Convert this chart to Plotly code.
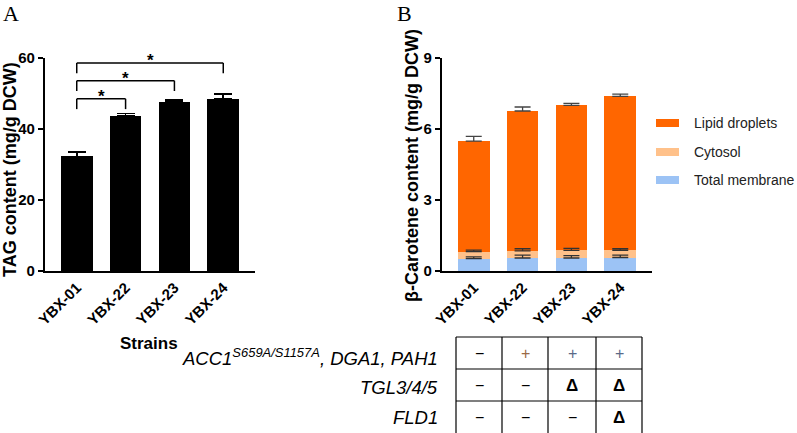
import plotly.graph_objects as go
import numpy as np

W, H = 797, 433

# ---------------- data ----------------
strains = ["YBX-01", "YBX-22", "YBX-23", "YBX-24"]

# Panel A: TAG content (mg/g DCW)
tag_vals = [32.3, 43.6, 47.6, 48.4]
tag_err = [1.3, 0.8, 0.6, 1.5]
sig_pairs = [(0, 1), (0, 2), (0, 3)]
sig_labels = ["*", "*", "*"]
sig_levels = [48.5, 53.6, 58.6]

# Panel B: beta-carotene content (mg/g DCW)
membrane = [0.52, 0.55, 0.55, 0.57]
membrane_err = [0.08, 0.12, 0.10, 0.10]
cytosol = [0.30, 0.30, 0.32, 0.30]
cytosol_err = [0.06, 0.09, 0.09, 0.07]
lipid = [4.67, 5.91, 6.13, 6.51]
lipid_err = [0.20, 0.17, 0.08, 0.09]
series_names = ["Total membrane", "Cytosol", "Lipid droplets"]
series_colors = ["#9cc3f5", "#ffc18a", "#ff6600"]

tick_a = [0, 20, 40, 60]
tick_b = [0, 3, 6, 9]

# Genotype table
row_labels = ["<i>ACC1<sup>S659A/S1157A</sup>, DGA1, PAH1</i>", "<i>TGL3/4/5</i>", "<i>FLD1</i>"]
table_cells = [["−", "+", "+", "+"],
               ["−", "−", "Δ", "Δ"],
               ["−", "−", "−", "Δ"]]

# ---------------- helpers ----------------
def px(x):
    return x / W

def py(y):
    return 1 - y / H

FONT = "Liberation Sans, Arial, sans-serif"
bold = dict(family=FONT, size=15, color="black", weight="bold")

fig = go.Figure()

# Panel A bars
fig.add_trace(go.Bar(
    x=strains, y=tag_vals, width=0.65, marker=dict(color="black", line=dict(width=0)),
    error_y=dict(type="data", array=tag_err, arrayminus=[0] * 4, symmetric=False,
                 color="black", thickness=1.6, width=9),
    xaxis="x", yaxis="y", showlegend=False))

# Panel B stacked bars
stack_vals = [membrane, cytosol, lipid]
stack_errs = [membrane_err, cytosol_err, lipid_err]
for name, vals, col in zip(series_names, stack_vals, series_colors):
    fig.add_trace(go.Bar(x=strains, y=vals, width=0.65, name=name,
                         marker=dict(color=col, line=dict(width=0)),
                         xaxis="x2", yaxis="y2", showlegend=False))
cum = np.cumsum(np.array(stack_vals), axis=0)
err_cols = ["#333333", "#333333", "#444444"]
for i in range(3):
    fig.add_trace(go.Scatter(
        x=strains, y=cum[i], mode="markers", marker=dict(size=1, opacity=0),
        error_y=dict(type="data", array=stack_errs[i], arrayminus=[0] * 4, symmetric=False,
                     color=err_cols[i], thickness=1.3, width=8),
        xaxis="x2", yaxis="y2", showlegend=False, hoverinfo="skip"))

shapes = []
annotations = []

# significance brackets (panel A)
leg = 2.9
for (a, b), lab, lev in zip(sig_pairs, sig_labels, sig_levels):
    xa, xb = strains[a], strains[b]
    for (x0, y0, x1, y1) in [(xa, lev - leg, xa, lev), (xa, lev, xb, lev), (xb, lev, xb, lev - leg)]:
        shapes.append(dict(type="line", xref="x", yref="y", x0=x0, y0=y0, x1=x1, y1=y1,
                           line=dict(color="black", width=1.5)))
    annotations.append(dict(x=(a + b) / 2, y=lev, xref="x", yref="y", text=lab, showarrow=False,
                            yanchor="bottom", yshift=-9, font=dict(family=FONT, size=17, color="black", weight="bold")))

# Legend (panel B)
leg_y = [123, 152, 180]
leg_order = [2, 1, 0]
for yy, idx in zip(leg_y, leg_order):
    shapes.append(dict(type="rect", xref="paper", yref="paper", x0=px(656), x1=px(679),
                       y0=py(yy + 4), y1=py(yy - 4), fillcolor=series_colors[idx], line=dict(width=0)))
    annotations.append(dict(x=px(692), y=py(yy), xref="paper", yref="paper", text=series_names[idx],
                            showarrow=False, xanchor="left", yanchor="middle",
                            font=dict(family=FONT, size=14, color="#222222")))

# Y-axis titles
annotations.append(dict(x=px(10), y=py(170), xref="paper", yref="paper", text="TAG content (mg/g DCW)",
                        textangle=-90, showarrow=False, xanchor="center", yanchor="middle",
                        font=dict(family=FONT, size=18, color="black", weight="bold")))
annotations.append(dict(x=px(412), y=py(166), xref="paper", yref="paper", text="β-Carotene content (mg/g DCW)",
                        textangle=-90, showarrow=False, xanchor="center", yanchor="middle",
                        font=dict(family=FONT, size=18, color="black", weight="bold")))
# Strains label
annotations.append(dict(x=px(149), y=py(343), xref="paper", yref="paper", text="Strains",
                        showarrow=False, xanchor="center", yanchor="middle",
                        font=dict(family=FONT, size=17, color="black", weight="bold")))
# Panel letters
for lab, xx in [("A", 11), ("B", 404)]:
    annotations.append(dict(x=px(xx), y=py(13), xref="paper", yref="paper", text=lab, showarrow=False,
                            xanchor="center", yanchor="middle",
                            font=dict(family="Liberation Serif, Times New Roman, serif", size=22, color="black")))

# Table
col_x = [456, 502, 548, 596, 642]
row_y = [337, 369, 401, 433]
for yy in row_y[:-1]:
    shapes.append(dict(type="line", xref="paper", yref="paper", x0=px(col_x[0]), x1=px(col_x[-1]),
                       y0=py(yy), y1=py(yy), line=dict(color="black", width=1.2)))
for xx in col_x:
    shapes.append(dict(type="line", xref="paper", yref="paper", x0=px(xx), x1=px(xx),
                       y0=py(row_y[0]), y1=py(row_y[-1] + 2), line=dict(color="black", width=1.2)))
plus_colors = ["#9a6a45", "#5a6a88", "#5a6a88"]
label_y = [357, 387, 417]
for r in range(3):
    annotations.append(dict(x=px(440), y=py(label_y[r]), xref="paper", yref="paper", text=row_labels[r],
                            showarrow=False, xanchor="right", yanchor="middle",
                            font=dict(family=FONT, size=18.5, color="black")))
    cy = (row_y[r] + row_y[r + 1]) / 2
    for c in range(4):
        cx = (col_x[c] + col_x[c + 1]) / 2
        t = table_cells[r][c]
        if t == "+":
            f = dict(family=FONT, size=16, color=plus_colors[c - 1])
        elif t == "Δ":
            f = dict(family=FONT, size=17, color="black", weight="bold")
        else:
            f = dict(family=FONT, size=16, color="black")
        annotations.append(dict(x=px(cx), y=py(cy), xref="paper", yref="paper", text=t, showarrow=False,
                                xanchor="center", yanchor="middle", font=f))

ydom = [py(271), py(58)]
common_x = dict(type="category", range=[-0.65, 3.65], showline=True, linecolor="black", linewidth=2.2,
                ticks="", tickangle=-45, tickfont=bold, showgrid=False, zeroline=False, fixedrange=True,
                automargin=False)
common_y = dict(showline=True, linecolor="black", linewidth=2.2, ticks="outside", ticklen=5, tickwidth=2,
                tickcolor="black", tickfont=bold, showgrid=False, zeroline=False, automargin=False)

fig.update_layout(
    template="none",
    width=W, height=H, margin=dict(l=0, r=0, t=0, b=0, pad=0), autosize=False,
    paper_bgcolor="white", plot_bgcolor="white",
    barmode="stack", showlegend=False,
    xaxis=dict(domain=[px(45), px(255)], anchor="y", **common_x),
    yaxis=dict(domain=ydom, anchor="x", range=[0, 60], tickvals=tick_a, **common_y),
    xaxis2=dict(domain=[px(442), px(652)], anchor="y2", **common_x),
    yaxis2=dict(domain=ydom, anchor="x2", range=[0, 9], tickvals=tick_b, **common_y),
    shapes=shapes, annotations=annotations,
)

fig.write_html("out.html", config={"displayModeBar": False},
               post_script="document.body.style.margin='0px';document.body.style.overflow='hidden';")
